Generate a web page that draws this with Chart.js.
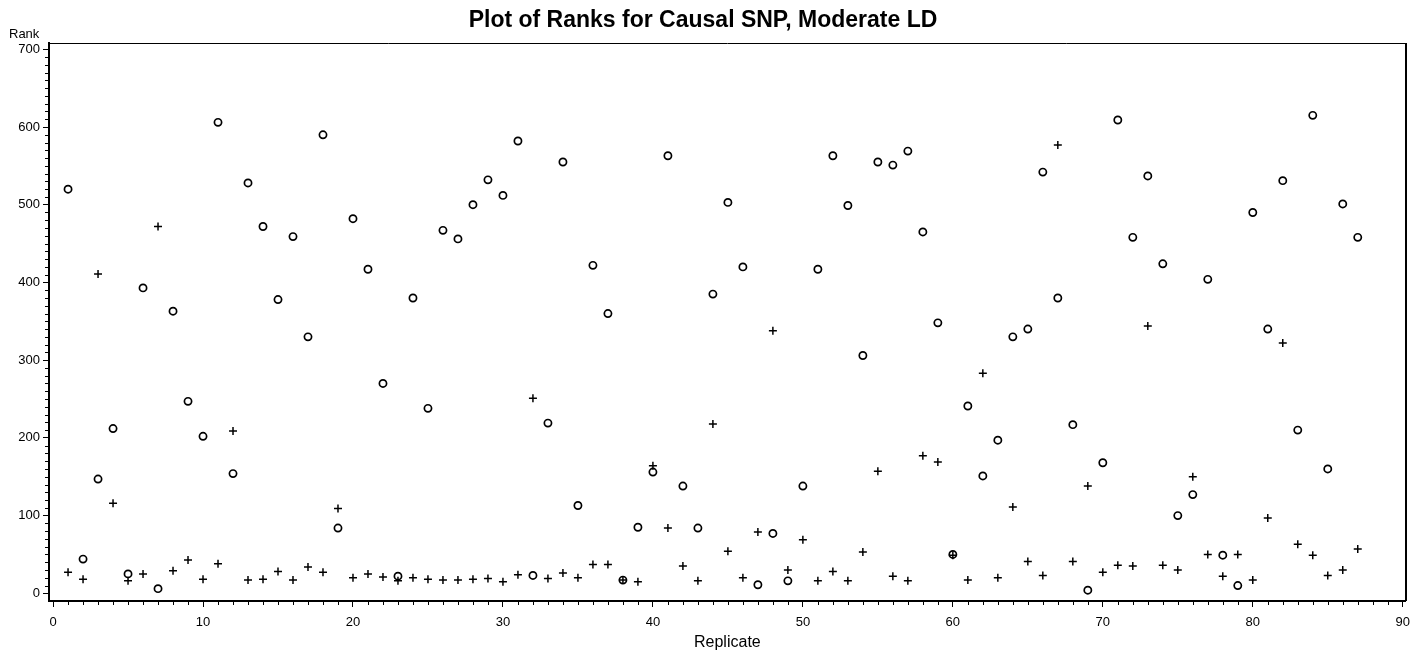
<!DOCTYPE html>
<html>
<head>
<meta charset="utf-8">
<script src="https://cdn.jsdelivr.net/npm/chart.js@4/dist/chart.umd.min.js"></script>
<style>
  html, body { margin: 0; padding: 0; background: #fff; }
  #wrap { width: 1418px; height: 654px; position: relative; }
</style>
</head>
<body>
<div id="wrap"><canvas id="c" width="1418" height="654"></canvas></div>
<script>
const replicates = [1,2,3,4,5,6,7,8,9,10,11,12,13,14,15,16,17,18,19,20,21,22,23,24,25,26,27,28,29,30,
  31,32,33,34,35,36,37,38,39,40,41,42,43,44,45,46,47,48,49,50,51,52,53,54,55,56,57,58,59,60,
  61,62,63,64,65,66,67,68,69,70,71,72,73,74,75,76,77,78,79,80,81,82,83,84,85,86,87];

// circle markers
const rankCircle = [520,44,147,212,25,393,6,363,247,202,606,154,528,472,378,459,330,590,84,482,
  417,270,22,380,238,467,456,500,532,512,582,23,219,555,113,422,360,17,85,156,
  563,138,84,385,503,420,11,77,16,138,417,563,499,306,555,551,569,465,348,50,
  241,151,197,330,340,542,380,217,4,168,609,458,537,424,100,127,404,49,10,490,
  340,531,210,615,160,501,458];

// plus markers
const rankPlus = [27,18,411,116,16,25,472,29,43,18,38,209,17,18,28,17,34,27,109,20,
  25,21,16,20,18,17,17,18,19,15,24,251,19,26,20,37,37,17,15,164,
  84,35,16,218,54,20,79,338,30,69,16,28,16,53,157,22,16,177,169,49,
  17,283,20,111,41,23,577,41,138,27,36,35,344,36,30,150,50,22,50,17,
  97,322,63,49,23,30,57];

const xTicks = [0,10,20,30,40,50,60,70,80,90];
const yTicks = [0,100,200,300,400,500,600,700];

const titleText = 'Plot of Ranks for Causal SNP, Moderate LD';
const xTitle = 'Replicate';
const yTitle = 'Rank';

const FONT = '"Liberation Sans", Arial, sans-serif';

const framePlugin = {
  id: 'frame',
  afterDraw(chart) {
    const {ctx, chartArea: a, scales} = chart;
    const L = Math.round(a.left), R = Math.round(a.right), T = Math.round(a.top), B = Math.round(a.bottom);
    ctx.save();
    ctx.strokeStyle = '#000';
    ctx.lineWidth = 1;
    ctx.beginPath();
    ctx.moveTo(L, T + 0.5);
    ctx.lineTo(R, T + 0.5);
    ctx.stroke();
    ctx.lineWidth = 2;
    ctx.beginPath();
    ctx.moveTo(R, T);
    ctx.lineTo(R, B);
    ctx.stroke();
    const xs = scales.x, ys = scales.y;
    ctx.lineWidth = 1;
    ctx.beginPath();
    for (let v = 0; v <= 90; v += 1) {
      if (v % 10 === 0) continue;
      const px = Math.round(xs.getPixelForValue(v)) + 0.5;
      ctx.moveTo(px, B);
      ctx.lineTo(px, B + 4);
    }
    for (let v = 0; v <= 700; v += 10) {
      if (v % 100 === 0) continue;
      const py = Math.round(ys.getPixelForValue(v)) + 0.5;
      ctx.moveTo(L, py);
      ctx.lineTo(L - 4, py);
    }
    ctx.stroke();
    ctx.fillStyle = '#000';
    ctx.font = '13px ' + FONT;
    ctx.textAlign = 'left';
    ctx.textBaseline = 'alphabetic';
    ctx.fillText(yTitle, 9, 38);
    ctx.restore();
  }
};

new Chart(document.getElementById('c'), {
  type: 'scatter',
  data: {
    datasets: [
      {
        label: 'circle',
        data: replicates.map((r, i) => ({x: r, y: rankCircle[i]})),
        pointStyle: 'circle',
        pointRadius: 3.6,
        pointBorderWidth: 1.7,
        pointBorderColor: '#000',
        pointBackgroundColor: 'rgba(0,0,0,0)'
      },
      {
        label: 'plus',
        data: replicates.map((r, i) => ({x: r, y: rankPlus[i]})),
        pointStyle: 'cross',
        pointRadius: 4,
        pointBorderWidth: 1.5,
        pointBorderColor: '#000',
        pointBackgroundColor: 'rgba(0,0,0,0)'
      }
    ]
  },
  options: {
    responsive: false,
    animation: false,
    layout: { padding: { left: 0, right: 12, top: 0, bottom: 0 } },
    plugins: {
      legend: { display: false },
      tooltip: { enabled: false },
      title: {
        display: true,
        text: titleText,
        color: '#000',
        font: { family: FONT, size: 23, weight: 'bold', lineHeight: 1.2 },
        padding: { top: 6.5, bottom: 8.9 }
      }
    },
    scales: {
      x: {
        type: 'linear',
        min: -0.27,
        max: 90.2,
        afterBuildTicks(scale) { scale.ticks = xTicks.map(v => ({value: v})); },
        afterFit(scale) { scale.height = 53; },
        ticks: {
          color: '#000',
          font: { family: FONT, size: 13 },
          padding: 8,
          maxRotation: 0,
          autoSkip: false
        },
        grid: { display: true, drawOnChartArea: false, drawTicks: true, tickLength: 6, color: '#000', tickWidth: 1 },
        border: { display: true, color: '#000', width: 2 },
        title: {
          display: true,
          text: xTitle,
          color: '#000',
          font: { family: FONT, size: 16 },
          padding: { top: 0, bottom: 2 }
        }
      },
      y: {
        type: 'linear',
        min: -9.9,
        max: 708.1,
        afterBuildTicks(scale) { scale.ticks = yTicks.map(v => ({value: v})); },
        afterFit(scale) { scale.width = 49; },
        ticks: {
          color: '#000',
          font: { family: FONT, size: 13 },
          padding: 3,
          autoSkip: false
        },
        grid: { display: true, drawOnChartArea: false, drawTicks: true, tickLength: 6, color: '#000', tickWidth: 1 },
        border: { display: true, color: '#000', width: 2 }
      }
    }
  },
  plugins: [framePlugin]
});
</script>
</body>
</html>
